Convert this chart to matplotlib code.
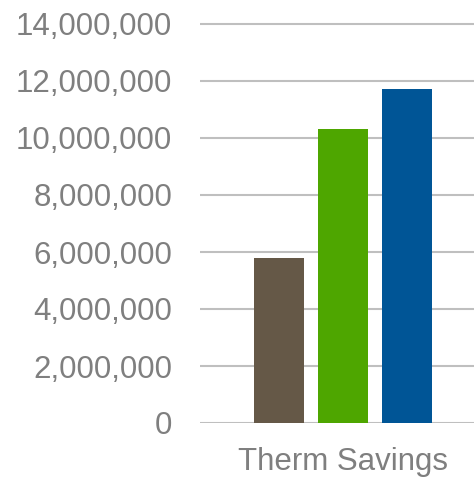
import matplotlib
matplotlib.use('Agg')
import matplotlib.pyplot as plt
from matplotlib.ticker import FuncFormatter

# therm savings by program year
category = 'Therm Savings'
values = [5790000, 10320000, 11720000]
colors = ['#655847', '#4ea600', '#005596']

plt.rcParams['font.family'] = ['Liberation Sans', 'DejaVu Sans']

fig = plt.figure(figsize=(4.74, 4.8), dpi=100)
ymax = 14.2e6
# zero line at y=423px, 2M per 57px
px_per_unit = 57 / 2e6
top_px = 423 - ymax * px_per_unit
ax = fig.add_axes([200 / 474, 57 / 480, 274 / 474, (423 - top_px) / 480])

xs = [-1, 0, 1]
ax.bar(xs, values, width=0.79, color=colors, zorder=3)

ax.set_ylim(0, ymax)
ax.set_xlim((200 - 343) / 64, (474 - 343) / 64)
ax.set_yticks(range(0, 14000001, 2000000))
ax.yaxis.set_major_formatter(FuncFormatter(lambda v, p: f'{int(v):,}'))
ax.set_xticks([0])
ax.set_xticklabels([category])

ax.yaxis.grid(True, color='#bfbfbf', linewidth=1.5, zorder=0)
ax.set_axisbelow(True)
for s in ax.spines.values():
    s.set_visible(False)
ax.tick_params(axis='both', length=0, labelsize=22.5, labelcolor='#7f7f7f')
ax.tick_params(axis='y', pad=20)
ax.tick_params(axis='x', pad=17)

fig.savefig('out.png', dpi=100)
